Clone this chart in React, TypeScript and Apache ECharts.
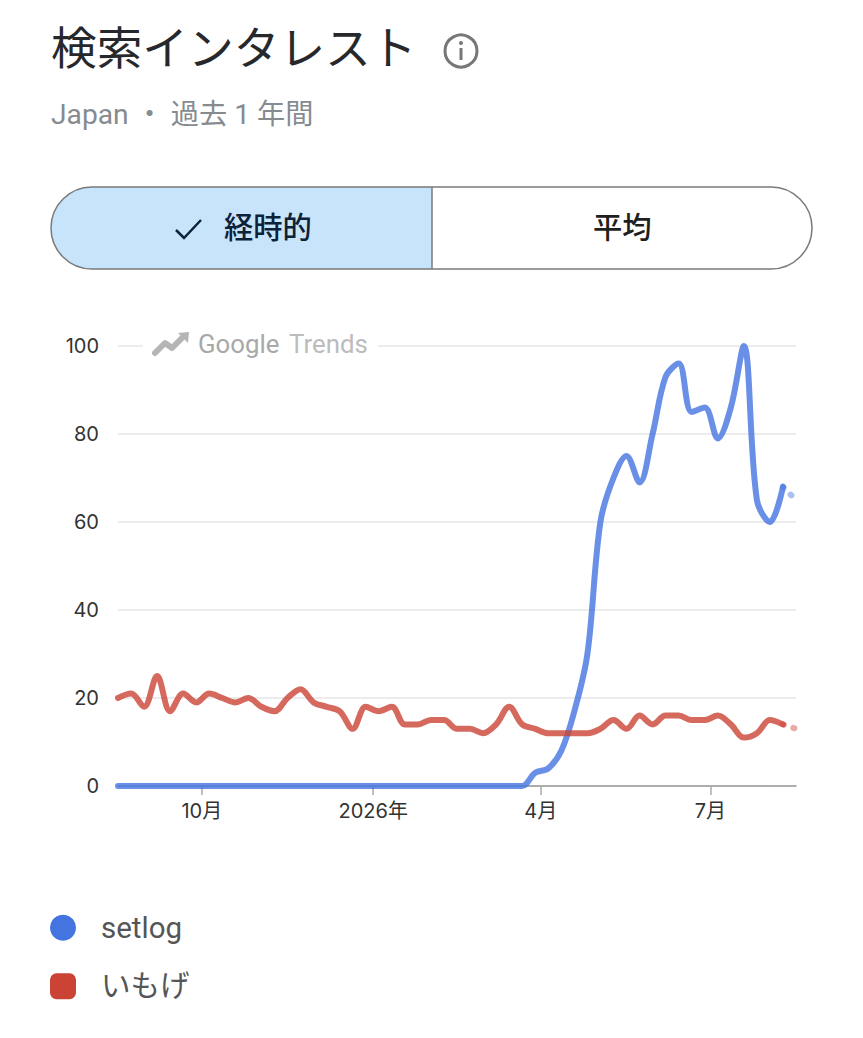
import React, { useEffect, useRef } from "react";
import * as echarts from "echarts";

const startDate = Date.UTC(2025, 7, 17);
const weekMs = 7 * 24 * 3600 * 1000;

const setlog = [
  0, 0, 0, 0, 0, 0, 0, 0, 0, 0, 0, 0, 0, 0, 0, 0, 0, 0, 0, 0, 0, 0, 0, 0, 0, 0, 0, 0, 0, 0, 0, 0,
  3, 4, 8, 17, 30, 60, 70, 75, 69, 80, 93, 96, 85, 86, 79, 86, 100, 65, 60, 68, 65,
];
const imoge = [
  20, 21, 18, 25, 17, 21, 19, 21, 20, 19, 20, 18, 17, 20, 22, 19, 18, 17, 13, 18, 17, 18, 14, 14, 15, 15, 13,
  13, 12, 14, 18, 14, 13, 12, 12, 12, 12, 13, 15, 13, 16, 14, 16, 16, 15, 15, 16, 14, 11, 12, 15, 14, 13,
];
const monthTicks = [
  { date: Date.UTC(2025, 9, 1), label: "10月" },
  { date: Date.UTC(2026, 0, 1), label: "2026年" },
  { date: Date.UTC(2026, 3, 1), label: "4月" },
  { date: Date.UTC(2026, 6, 1), label: "7月" },
];
const seriesNames = ["setlog", "いもげ"];

const JP = '"Noto Sans CJK JP", "Noto Sans", sans-serif';
const pts = (arr: number[]) => arr.map((v, i) => [startDate + i * weekMs, v]);
const lastIdx = setlog.length - 1;

function solid(arr: number[]) {
  return pts(arr).slice(0, lastIdx);
}
function partial(arr: number[]) {
  return pts(arr).slice(lastIdx - 1);
}

export default function App() {
  const ref = useRef<HTMLDivElement>(null);
  useEffect(() => {
    document.body.style.margin = "0";
    const chart = echarts.init(ref.current!, undefined, { renderer: "svg" });
    const lineCommon = {
      type: "line",
      symbol: "none",
      clip: false,
      silent: true,
    };
    chart.setOption({
      animation: false,
      backgroundColor: "#ffffff",
      grid: { left: 118, right: 67, top: 346, height: 440 },
      xAxis: {
        type: "value",
        min: startDate,
        max: startDate + lastIdx * weekMs,
        splitLine: { show: false },
        axisLine: { show: true, onZero: true, lineStyle: { color: "#999999", width: 1.5 } },
        axisTick: {
          show: true,
          length: 9,
          lineStyle: { color: "#aaaaaa", width: 1.5 },
          customValues: monthTicks.map((t) => t.date),
        },
        axisLabel: {
          show: true,
          margin: 15,
          color: "#333333",
          fontSize: 20,
          fontFamily: `"Inter", ${JP}`,
          customValues: monthTicks.map((t) => t.date),
          formatter: (v: number) => monthTicks.find((t) => t.date === v)?.label ?? "",
        },
      },
      yAxis: {
        type: "value",
        min: 0,
        max: 100,
        interval: 20,
        axisLine: { show: false },
        axisTick: { show: false },
        splitLine: { show: true, lineStyle: { color: "#ececec", width: 2 } },
        axisLabel: { color: "#333333", fontSize: 20, margin: 19, fontFamily: "Inter, sans-serif" },
      },
      legend: {
        left: 45,
        top: 908,
        orient: "vertical",
        itemWidth: 26,
        itemHeight: 26,
        itemGap: 29,
        selectedMode: false,
        data: [
          { name: seriesNames[0], icon: "circle" },
          { name: seriesNames[1], icon: "roundRect" },
        ],
        textStyle: { color: "#555555", fontSize: 29.5, fontFamily: '"Roboto", "Noto Sans CJK JP", sans-serif', padding: [0, 0, 0, 20] },
      },
      color: ["#4374e0", "#cb4335"],
      series: [
        {
          ...lineCommon,
          name: seriesNames[0],
          smooth: 0.35,
          itemStyle: { color: "#4374e0" },
          lineStyle: { color: "#4374e0", width: 6, opacity: 0.8, cap: "round" },
          data: solid(setlog),
        },
        {
          ...lineCommon,
          name: seriesNames[1],
          smooth: 0.35,
          itemStyle: { color: "#cb4335" },
          lineStyle: { color: "#cb4335", width: 6, opacity: 0.8, cap: "round" },
          data: solid(imoge),
        },
        {
          ...lineCommon,
          name: seriesNames[0] + " 部分データ",
          lineStyle: { color: "#4374e0", width: 6, opacity: 0.45, type: [1, 10], cap: "round" },
          data: partial(setlog),
        },
        {
          ...lineCommon,
          name: seriesNames[1] + " 部分データ",
          lineStyle: { color: "#cb4335", width: 6, opacity: 0.45, type: [1, 10], cap: "round" },
          data: partial(imoge),
        },
      ],
      graphic: [
        { type: "text", x: 51, y: 45, style: { text: "検索インタレスト", font: `400 45.7px ${JP}`, fill: "#26282b", textVerticalAlign: "middle" } },
        { type: "circle", shape: { cx: 461, cy: 51, r: 16 }, style: { fill: "none", stroke: "#777777", lineWidth: 3 } },
        { type: "circle", shape: { cx: 461, cy: 43, r: 2 }, style: { fill: "#777777" } },
        { type: "rect", shape: { x: 459.5, y: 48, width: 3, height: 12 }, style: { fill: "#777777" } },
        { type: "text", x: 51, y: 114, style: { text: "Japan ・ 過去 1 年間", font: `400 28.2px "Roboto", ${JP}`, fill: "#868b8f", textVerticalAlign: "middle" } },

        { type: "rect", shape: { x: 51, y: 187, width: 381, height: 82, r: [41, 0, 0, 41] }, style: { fill: "#c8e4fb" } },
        { type: "rect", shape: { x: 51, y: 187, width: 761, height: 82, r: 41 }, style: { fill: "none", stroke: "#7a7a7a", lineWidth: 1.5 } },
        { type: "line", shape: { x1: 432, y1: 187, x2: 432, y2: 269 }, style: { stroke: "#7a7a7a", lineWidth: 1.5 } },
        { type: "polyline", shape: { points: [[176, 230], [184, 238], [201, 220]] }, style: { fill: "none", stroke: "#0d2238", lineWidth: 2.5 } },
        { type: "text", x: 224, y: 225, style: { text: "経時的", font: `500 29.3px ${JP}`, fill: "#0d2238", textVerticalAlign: "middle" } },
        { type: "text", x: 593, y: 225, style: { text: "平均", font: `500 29.3px ${JP}`, fill: "#1f1f1f", textVerticalAlign: "middle" } },

        { type: "rect", shape: { x: 143, y: 330, width: 235, height: 30 }, style: { fill: "#ffffff" }, z: 1 },
        { type: "polyline", shape: { points: [[155, 353], [165, 343], [172, 348], [183, 337]] }, style: { fill: "none", stroke: "#b5b5b5", lineWidth: 6, lineCap: "round", lineJoin: "round" }, z: 2 },
        { type: "polygon", shape: { points: [[178, 333], [189, 332], [188, 343]] }, style: { fill: "#b5b5b5" }, z: 2 },
        { type: "text", x: 198, y: 344, z: 2, style: { text: "Google", font: `400 25.8px "Roboto", sans-serif`, fill: "#a8a8a8", textVerticalAlign: "middle" } },
        { type: "text", x: 289, y: 344, z: 2, style: { text: "Trends", font: `400 25.8px "Roboto", sans-serif`, fill: "#bcbcbc", textVerticalAlign: "middle" } },
      ],
    });
    return () => chart.dispose();
  }, []);
  return <div ref={ref} style={{ width: 863, height: 1038 }} />;
}
